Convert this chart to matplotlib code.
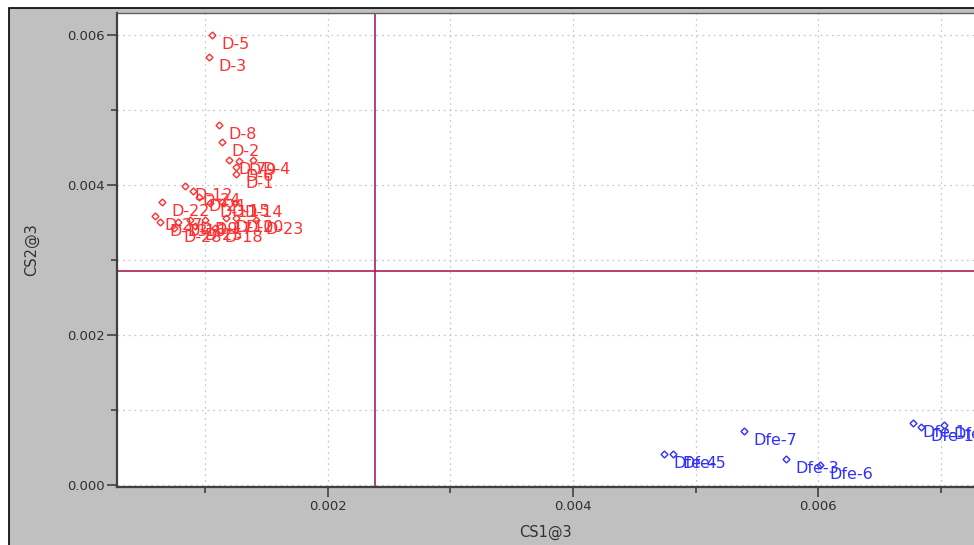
import matplotlib
matplotlib.use("Agg")
import matplotlib.pyplot as plt
from matplotlib.patches import Rectangle
from matplotlib.ticker import MultipleLocator, FormatStrFormatter

# ---- data ----
red_labels = ["D-5", "D-3", "D-8", "D-2", "D-7", "D-9", "D-4", "D-6", "D-1",
              "D-12", "D-24", "D-21", "D-11", "D-15", "D-14", "D-22", "D-27",
              "D-13", "D-16", "D-19", "D-17", "D-10", "D-20", "D-23", "D-28",
              "D-18", "D-25"]
red_x = [0.001053, 0.001029, 0.001110, 0.001135, 0.001192, 0.001273, 0.001388,
         0.001249, 0.001249, 0.000833, 0.000898, 0.000947, 0.001037, 0.001135,
         0.001241, 0.000645, 0.000588, 0.000629, 0.000776, 0.000873, 0.000996,
         0.001167, 0.001249, 0.001412, 0.000743, 0.001078, 0.000914]
red_y = [0.006000, 0.005707, 0.004800, 0.004573, 0.004333, 0.004320, 0.004333,
         0.004240, 0.004147, 0.003987, 0.003920, 0.003840, 0.003760, 0.003773,
         0.003760, 0.003773, 0.003587, 0.003507, 0.003507, 0.003533, 0.003533,
         0.003560, 0.003560, 0.003533, 0.003427, 0.003427, 0.003453]

blue_labels = ["Dfe-4", "Dfe-5", "Dfe-7", "Dfe-3", "Dfe-6", "Dfe-1", "Dfe-12", "Dfe-11"]
blue_x = [0.004743, 0.004816, 0.005396, 0.005739, 0.006016, 0.006776, 0.006841, 0.007029]
blue_y = [0.000413, 0.000413, 0.000720, 0.000347, 0.000267, 0.000827, 0.000773, 0.000800]

vline_x = 0.002384
hline_y = 0.002853

x_label = "CS1@3"
y_label = "CS2@3"

# ---- figure ----
W, H = 974, 545
fig = plt.figure(figsize=(W / 100, H / 100), dpi=100, facecolor="white")
fig.patches.append(Rectangle((9 / W, -0.05), 1.2, (H - 8) / H + 0.05,
                             transform=fig.transFigure, facecolor="#c0c0c0",
                             edgecolor="black", linewidth=1.2, zorder=-10))

ax = fig.add_axes([117 / W, 1 - 487 / H, (974 - 117) / W, (487 - 13) / H])
ax.set_facecolor("white")
ax.set_xlim(0.000278, 0.007273)
ax.set_ylim(-0.0000267, 0.0062933)

ax.xaxis.set_major_locator(MultipleLocator(0.002))
ax.xaxis.set_minor_locator(MultipleLocator(0.001))
ax.yaxis.set_major_locator(MultipleLocator(0.002))
ax.yaxis.set_minor_locator(MultipleLocator(0.001))
ax.xaxis.set_major_formatter(FormatStrFormatter("%.3f"))
ax.yaxis.set_major_formatter(FormatStrFormatter("%.3f"))

ax.grid(True, which="both", color="#c8c8c8", linestyle=(0, (1.5, 3)), linewidth=0.9)
ax.set_axisbelow(True)

for s in ["left", "bottom"]:
    ax.spines[s].set_color("#404040")
    ax.spines[s].set_linewidth(1.6)
ax.spines["top"].set_color("#606060")
ax.spines["top"].set_linewidth(1.0)
ax.spines["right"].set_visible(False)

ax.tick_params(which="major", length=7, width=1.2, color="#404040",
               labelsize=9.5, labelcolor="#303030", pad=2)
ax.tick_params(which="minor", length=4, width=1.2, color="#404040")

ax.set_xlabel(x_label, fontsize=10.5, color="#303030", labelpad=9)
ax.set_ylabel(y_label, fontsize=10.5, color="#303030", labelpad=20)

ax.axvline(vline_x, color="#a8205a", linewidth=1.2, zorder=2)
ax.axhline(hline_y, color="#a8205a", linewidth=1.2, zorder=2)

red_c = "#ff3030"
blue_c = "#3030ff"
ax.plot(red_x, red_y, linestyle="none", marker="D", markersize=3.5,
        markerfacecolor="none", markeredgecolor=red_c, markeredgewidth=1.0, zorder=3)
ax.plot(blue_x, blue_y, linestyle="none", marker="D", markersize=3.5,
        markerfacecolor="none", markeredgecolor=blue_c, markeredgewidth=1.0, zorder=3)

for lab, x, y in zip(red_labels, red_x, red_y):
    ax.annotate(lab, (x, y), xytext=(7, -6.5), textcoords="offset points",
                ha="left", va="center", fontsize=11.5, color=red_c, zorder=4)
for lab, x, y in zip(blue_labels, blue_x, blue_y):
    ax.annotate(lab, (x, y), xytext=(7, -6.5), textcoords="offset points",
                ha="left", va="center", fontsize=11.5, color=blue_c, zorder=4)

fig.savefig("out.png", dpi=100, facecolor="white")
